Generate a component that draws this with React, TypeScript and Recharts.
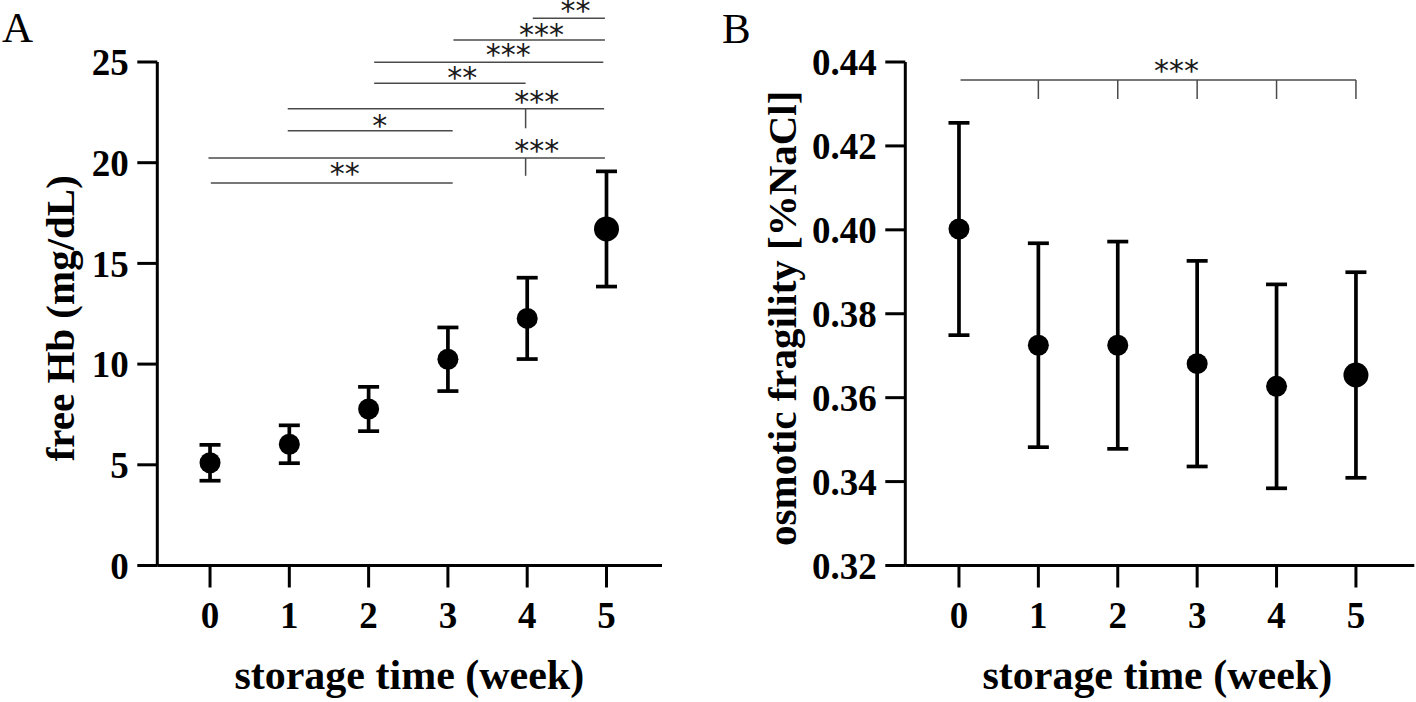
import React from 'react';
import { ScatterChart, Scatter, XAxis, YAxis, ErrorBar, ReferenceLine, ReferenceDot } from 'recharts';

const weeks = [0, 1, 2, 3, 4, 5];
const freeHbMean = [5.1, 6.02, 7.77, 10.24, 12.27, 16.71];
const freeHbSD = [0.89, 0.94, 1.1, 1.58, 2.02, 2.86];
const osmoticMean = [0.4002, 0.3725, 0.3725, 0.3681, 0.3627, 0.3654];
const osmoticSD = [0.0253, 0.0243, 0.0247, 0.0245, 0.0243, 0.0245];
const yTicksA = [0, 5, 10, 15, 20, 25];
const yTicksB = [0.32, 0.34, 0.36, 0.38, 0.4, 0.42, 0.44];

type Bracket = {
  from: number; to: number; level: number; stars: string; textAt: number; textLevel: number;
  drops: { at: number; to: number }[];
};

const bracketsA: Bracket[] = [
  { from: 4.07, to: 4.98, level: 27.17, stars: '**', textAt: 4.61, textLevel: 27.67, drops: [] },
  { from: 3.07, to: 4.98, level: 26.09, stars: '***', textAt: 4.18, textLevel: 26.5, drops: [] },
  { from: 2.07, to: 4.96, level: 24.99, stars: '***', textAt: 3.76, textLevel: 25.48, drops: [] },
  { from: 2.07, to: 3.98, level: 23.94, stars: '**', textAt: 3.18, textLevel: 24.35, drops: [] },
  { from: 0.98, to: 4.97, level: 22.68, stars: '***', textAt: 4.12, textLevel: 23.15, drops: [{ at: 3.98, to: 21.71 }] },
  { from: 0.98, to: 3.06, level: 21.59, stars: '*', textAt: 2.14, textLevel: 21.99, drops: [] },
  { from: -0.02, to: 4.98, level: 20.23, stars: '***', textAt: 4.12, textLevel: 20.71, drops: [{ at: 3.98, to: 19.35 }] },
  { from: 0.01, to: 3.06, level: 18.99, stars: '**', textAt: 1.7, textLevel: 19.6, drops: [] },
];

const bracketsB: Bracket[] = [
  {
    from: 0.02, to: 5.0, level: 0.43571, stars: '***', textAt: 2.74, textLevel: 0.4385,
    drops: [
      { at: 1, to: 0.43118 },
      { at: 2, to: 0.43118 },
      { at: 3, to: 0.43118 },
      { at: 4, to: 0.43118 },
      { at: 5, to: 0.43118 },
    ],
  },
];

const SERIF = '"Liberation Serif", "Times New Roman", serif';

type PanelProps = {
  width: number;
  means: number[];
  sds: number[];
  yDomain: [number, number];
  yTicks: number[];
  xDomain: [number, number];
  marginRight: number;
  yTitle: string;
  yTitleX: number;
  yFormat: (v: number) => string;
  brackets: Bracket[];
};

function Panel(p: PanelProps) {
  const data = weeks.map((w, i) => ({ week: w, value: p.means[i], sd: p.sds[i] }));
  const tickStyle = { fill: '#000', fontSize: 37, fontWeight: 700, fontFamily: SERIF };
  const lineStyle = { stroke: '#000', strokeWidth: 3 };
  return (
    <ScatterChart
      width={p.width}
      height={702}
      margin={{ top: 62, right: p.marginRight, bottom: 106.5, left: 97.3 }}
    >
      <XAxis
        type="number"
        dataKey="week"
        domain={p.xDomain}
        ticks={weeks}
        interval={0}
        allowDataOverflow
        height={30}
        tick={tickStyle}
        axisLine={lineStyle}
        tickLine={lineStyle}
        tickSize={22}
        tickMargin={14}
        label={{
          content: (lp: any) => {
            const vb = lp.viewBox || { x: 0, y: 0 };
            return (
              <text x={vb.x + 252} y={vb.y + 123.5} textAnchor="middle" fontFamily={SERIF} fontWeight={700} fontSize={42} fill="#000">
                storage time (week)
              </text>
            );
          },
        }}
      />
      <YAxis
        type="number"
        dataKey="value"
        domain={p.yDomain}
        ticks={p.yTicks}
        interval={0}
        allowDataOverflow
        width={60}
        tick={tickStyle}
        axisLine={lineStyle}
        tickLine={lineStyle}
        tickSize={20}
        tickMargin={8.5}
        tickFormatter={p.yFormat}
        label={{
          content: (lp: any) => {
            const vb = lp.viewBox || { x: 0, y: 0, height: 0 };
            const cy = vb.y + vb.height / 2 + 4.5;
            return (
              <text
                x={p.yTitleX}
                y={cy}
                transform={`rotate(-90, ${p.yTitleX}, ${cy})`}
                textAnchor="middle"
                fontFamily={SERIF}
                fontWeight={700}
                fontSize={41}
                fill="#000"
              >
                {p.yTitle}
              </text>
            );
          },
        }}
      />
      {p.brackets.map((b, i) => (
        <ReferenceLine
          key={`l${i}`}
          segment={[{ x: b.from, y: b.level }, { x: b.to, y: b.level }]}
          stroke="#4a4a4a"
          strokeWidth={1.5}
          ifOverflow="visible"
        />
      ))}
      {p.brackets.flatMap((b, i) =>
        b.drops.map((d, j) => (
          <ReferenceLine
            key={`d${i}-${j}`}
            segment={[{ x: d.at, y: b.level }, { x: d.at, y: d.to }]}
            stroke="#4a4a4a"
            strokeWidth={1.5}
            ifOverflow="visible"
          />
        ))
      )}
      {p.brackets.map((b, i) => (
        <ReferenceDot
          key={`t${i}`}
          x={b.textAt}
          y={b.textLevel}
          ifOverflow="visible"
          shape={(sp: any) => (
            <text
              x={sp.cx}
              y={sp.cy + 13}
              textAnchor="middle"
              fontFamily='"DejaVu Sans", sans-serif'
              fontSize={30}
              fill="#1a1a1a"
            >
              {b.stars}
            </text>
          )}
        />
      ))}
      <Scatter
        data={data}
        fill="#000"
        isAnimationActive={false}
        shape={(sp: any) => (
          <circle cx={sp.cx} cy={sp.cy} r={sp.payload.week === 5 ? 12.5 : 10.5} fill="#000" />
        )}
      >
        <ErrorBar dataKey="sd" direction="y" width={10.5} strokeWidth={3.7} stroke="#000" isAnimationActive={false} />
      </Scatter>
    </ScatterChart>
  );
}

export default function App() {
  return (
    <div style={{ position: 'absolute', left: 0, top: 0, width: 1416, height: 702, background: '#fff', overflow: 'hidden' }}>
      <div style={{ position: 'absolute', left: 0, top: 0 }}>
        <Panel
          width={708}
          means={freeHbMean}
          sds={freeHbSD}
          yDomain={[0, 25]}
          yTicks={yTicksA}
          xDomain={[-0.665, 5.7]}
          marginRight={46}
          yTitle="free Hb (mg/dL)"
          yTitleX={74}
          yFormat={(v: number) => String(v)}
          brackets={bracketsA}
        />
      </div>
      <div style={{ position: 'absolute', left: 747.7, top: 0 }}>
        <Panel
          width={668.3}
          means={osmoticMean}
          sds={osmoticSD}
          yDomain={[0.32, 0.44]}
          yTicks={yTicksB}
          xDomain={[-0.676, 5.735]}
          marginRight={2}
          yTitle="osmotic fragility [%NaCl]"
          yTitleX={48.5}
          yFormat={(v: number) => v.toFixed(2)}
          brackets={bracketsB}
        />
      </div>
      <svg width={1416} height={702} style={{ position: 'absolute', left: 0, top: 0, pointerEvents: 'none' }}>
        <text x={2} y={41.7} fontFamily={SERIF} fontSize={43} fill="#000">A</text>
        <text x={722} y={42.7} fontFamily={SERIF} fontSize={43} fill="#000">B</text>
      </svg>
    </div>
  );
}
